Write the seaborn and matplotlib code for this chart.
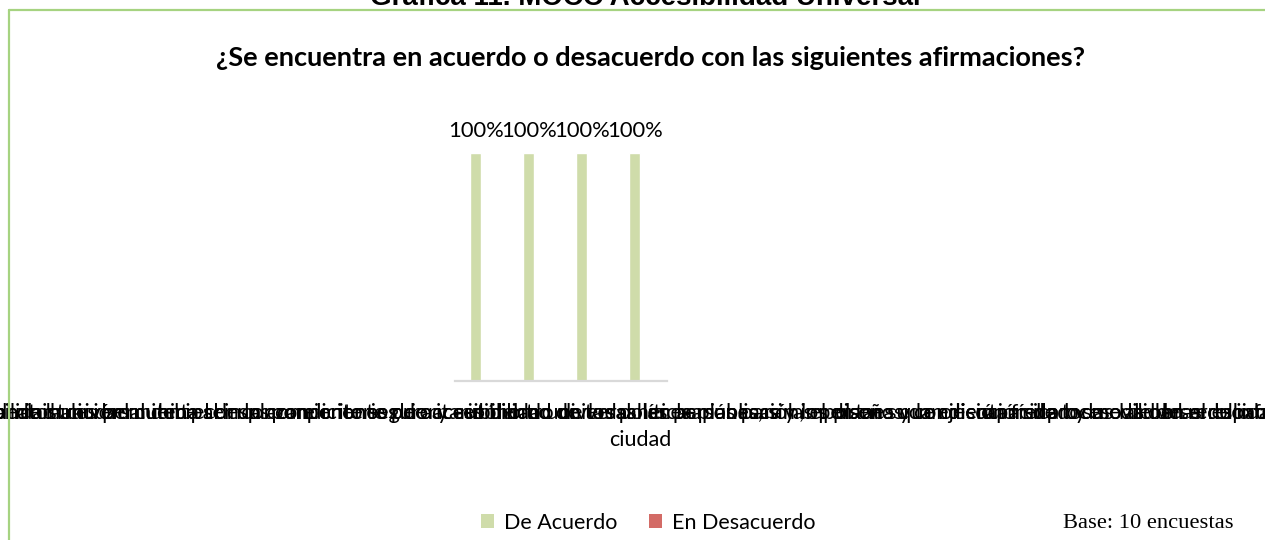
import matplotlib
matplotlib.use("Agg")
import matplotlib.pyplot as plt
import seaborn as sns
import pandas as pd
from matplotlib.patches import Patch
from matplotlib.lines import Line2D

# ---------------- data ----------------
categorias = [
    "La infraestructura peatonal actual de la ciudad cuenta con las condiciones de accesibilidad universal necesarias para las personas con discapacidad y movilidad reducida",
    "Las rampas, andenes y cruces peatonales permiten el desplazamiento seguro y autónomo de todas las personas, sin importar su condición física o su edad en el espacio público",
    "Es necesario que la administración municipal incorpore criterios de accesibilidad universal en la planeación, el diseño y la ejecución de todas las obras de infraestructura",
    "La accesibilidad universal debe ser un componente prioritario dentro de las políticas públicas y los planes que orientan el proceso de desarrollo urbano de la\nciudad",
]
series = ["De Acuerdo", "En Desacuerdo"]
de_acuerdo = [1.0, 1.0, 1.0, 1.0]
en_desacuerdo = [0.0, 0.0, 0.0, 0.0]
colores = ["#cfdcaa", "#d36b66"]

titulo_sup = "Gráfica 11. MOCC Accesibilidad Universal"
titulo = "¿Se encuentra en acuerdo o desacuerdo con las siguientes afirmaciones?"
base = "Base: 10 encuestas"

# ---------------- style ----------------
sns.set_theme(style="white")
plt.rcParams['font.family'] = ['Lato', 'DejaVu Sans']
plt.rcParams['text.color'] = 'black'
plt.rcParams['xtick.color'] = 'black'

df = pd.DataFrame({
    "Afirmación": categorias * 2,
    "Respuesta": [series[0]] * len(categorias) + [series[1]] * len(categorias),
    "Valor": de_acuerdo + en_desacuerdo,
})

W, H = 1265, 540
fig = plt.figure(figsize=(W / 100, H / 100), dpi=100)
ax = fig.add_axes([455 / W, 1 - 381 / H, 212 / W, (381 - 153) / H])

sns.barplot(data=df, x="Afirmación", y="Valor", hue="Respuesta",
            palette=colores, width=0.42, ax=ax, legend=False,
            saturation=1, errorbar=None)
ax.set_ylim(0, 1)
ax.set_xlim(-0.5, 3.5)
ax.set_xlabel("")
ax.set_ylabel("")
ax.set_yticks([])
for s in ["left", "top", "right"]:
    ax.spines[s].set_visible(False)
ax.spines["bottom"].set_color("#d9d9d9")
ax.spines["bottom"].set_linewidth(1.6)
ax.tick_params(axis="x", length=0, pad=16, labelsize=15.5, colors="black")
for lbl in ax.get_xticklabels():
    lbl.set_multialignment("center")
    lbl.set_linespacing(1.4)

ax.bar_label(ax.containers[0], labels=[f"{v:.0%}" for v in de_acuerdo],
             padding=9, fontsize=15.8, color="black")

# titles
fig.text(645 / W, 1 - 5 / H, titulo_sup, ha="center", va="baseline",
         fontsize=20, fontweight="bold", family=["Liberation Sans", "DejaVu Sans"])
fig.text(650 / W, 1 - 58 / H, titulo, ha="center", va="center",
         fontsize=19.5, fontweight="bold", color="black")

# legend
handles = [Patch(facecolor=c, edgecolor="none", label=s) for c, s in zip(colores, series)]
fig.legend(handles=handles, loc="center", bbox_to_anchor=(648 / W, 1 - 523 / H),
           ncol=2, frameon=False, fontsize=15.5, handlelength=0.62, handleheight=0.62,
           handletextpad=0.45, columnspacing=1.45)

fig.text(1063 / W, 1 - 523 / H, base, ha="left", va="center",
         fontsize=16.2, family=["Liberation Serif", "DejaVu Serif"])

# frame
borde = "#a6d381"
fig.add_artist(Line2D([8.5 / W, 1.0], [1 - 9.5 / H, 1 - 9.5 / H], color=borde, lw=1.6,
                      transform=fig.transFigure))
fig.add_artist(Line2D([8.5 / W, 8.5 / W], [0, 1 - 9.5 / H], color=borde, lw=1.6,
                      transform=fig.transFigure))

fig.savefig("out.png", dpi=100)
